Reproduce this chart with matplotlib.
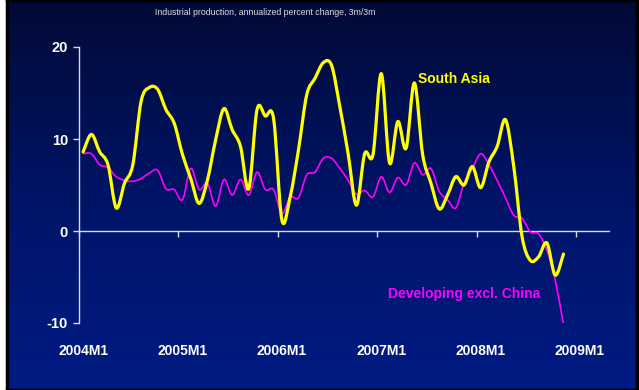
import numpy as np
import matplotlib.pyplot as plt
from matplotlib.path import Path
from matplotlib.patches import PathPatch
from matplotlib.colors import LinearSegmentedColormap

plt.rcParams['font.family'] = ['Liberation Sans', 'DejaVu Sans']
plt.rcParams['axes.unicode_minus'] = False

# monthly observations, 2004M1 .. 2008M11
months = [f"{y}M{m}" for y in range(2004, 2009) for m in range(1, 13)][:59]
tick_labels = ['2004M1', '2005M1', '2006M1', '2007M1', '2008M1', '2009M1']

south_asia = [8.6, 10.5, 8.6, 7.2, 2.5, 5.2, 7.2, 14.1, 15.6, 15.4,
              13.2, 11.7, 8.3, 5.7, 3.0, 5.5, 9.9, 13.3, 11.0, 9.2,
              4.6, 13.2, 12.5, 12.2, 1.2, 3.7, 8.8, 14.8, 16.6, 18.3,
              18.0, 13.5, 8.4, 2.8, 8.4, 8.3, 17.1, 7.4, 11.9, 9.0,
              16.1, 8.3, 5.2, 2.4, 3.9, 5.9, 5.0, 7.0, 4.7, 7.5,
              9.2, 12.1, 7.0, -0.6, -3.2, -2.8, -1.3, -4.8, -2.5]

developing_ex_china = [8.4, 8.4, 7.2, 6.9, 5.9, 5.5, 5.4, 5.7, 6.3, 6.6,
                       4.6, 4.5, 3.4, 6.8, 4.5, 5.2, 2.7, 5.6, 3.9, 5.6,
                       3.9, 6.4, 4.5, 4.5, 1.9, 3.7, 3.6, 6.1, 6.4, 7.9,
                       7.9, 6.8, 5.5, 4.0, 4.4, 3.7, 5.9, 4.2, 5.8, 5.0,
                       7.4, 6.1, 6.8, 4.3, 3.4, 2.5, 5.2, 6.8, 8.4, 7.2,
                       5.5, 3.6, 1.7, 1.4, -0.1, -0.3, -2.1, -5.3, -10.2]


def smooth_path(xs, ys):
    # cubic bezier through every point (spreadsheet-style smoothed line)
    pts = np.column_stack([xs, ys]).astype(float)
    n = len(pts)
    verts = [pts[0]]
    codes = [Path.MOVETO]
    for i in range(n - 1):
        p0 = pts[max(i - 1, 0)]
        p1 = pts[i]
        p2 = pts[i + 1]
        p3 = pts[min(i + 2, n - 1)]
        verts += [p1 + (p2 - p0) / 6, p2 - (p3 - p1) / 6, p2]
        codes += [Path.CURVE4] * 3
    return Path(verts, codes)


fig = plt.figure(figsize=(6.39, 3.90), dpi=100)
fig.patch.set_facecolor('white')

# blue gradient panel
bg = fig.add_axes([7 / 639, 0, 630 / 639, 1])
grad = np.linspace(0, 1, 256).reshape(-1, 1)
cmap = LinearSegmentedColormap.from_list('bg', ['#020A36', '#001466', '#001B84'])
bg.imshow(grad, aspect='auto', cmap=cmap, extent=[0, 1, 0, 1], origin='upper')
bg.set_xticks([])
bg.set_yticks([])
for s in bg.spines.values():
    s.set_color('black')
    s.set_linewidth(2.5)

ax = fig.add_axes([79 / 639, 1 - 323 / 390, 530 / 639, 276 / 390])
ax.set_facecolor('none')
ax.set_xlim(-0.5, 63.5)
ax.set_ylim(-10, 20)

x = np.arange(len(months))
ax.add_patch(PathPatch(smooth_path(x, developing_ex_china), facecolor='none',
                       edgecolor='#FF00FF', lw=1.2, joinstyle='round', capstyle='round'))
ax.add_patch(PathPatch(smooth_path(x, south_asia), facecolor='none',
                       edgecolor='#FFFF00', lw=2.3, joinstyle='round', capstyle='round'))

axis_col = '#D8DCEC'
for s in ['top', 'right', 'bottom']:
    ax.spines[s].set_visible(False)
ax.spines['left'].set_color(axis_col)
ax.spines['left'].set_linewidth(1)

ax.set_yticks([-10, 0, 10, 20])
ax.tick_params(axis='y', colors=axis_col, labelcolor='white', length=4, width=1,
               direction='out', labelsize=10.5, pad=4)
ax.set_xticks(range(0, 61, 12), tick_labels)
ax.tick_params(axis='x', length=0, pad=15, labelcolor='white', labelsize=10)
for lbl in ax.get_xticklabels() + ax.get_yticklabels():
    lbl.set_fontweight('bold')

# category axis crossing at zero
zero_ax = ax.secondary_xaxis(1 / 3)
zero_ax.set_xticks(np.arange(-0.5, 64, 12))
zero_ax.tick_params(axis='x', direction='out', length=4, width=1, color=axis_col,
                    labelbottom=False, labeltop=False)
zero_ax.spines['bottom'].set_color(axis_col)
zero_ax.spines['bottom'].set_linewidth(1)

ax.text(40.4, 16.5, 'South Asia', color='#FFFF00', fontsize=10,
        fontweight='bold', ha='left', va='center')
ax.text(36.8, -6.85, 'Developing excl. China', color='#FF00FF', fontsize=10,
        fontweight='bold', ha='left', va='center')

fig.text(0.4157, 0.967, 'Industrial production, annualized percent change, 3m/3m',
         ha='center', va='center', fontsize=6.3, color='#D8DCE8')

fig.savefig('out.png', dpi=100)
